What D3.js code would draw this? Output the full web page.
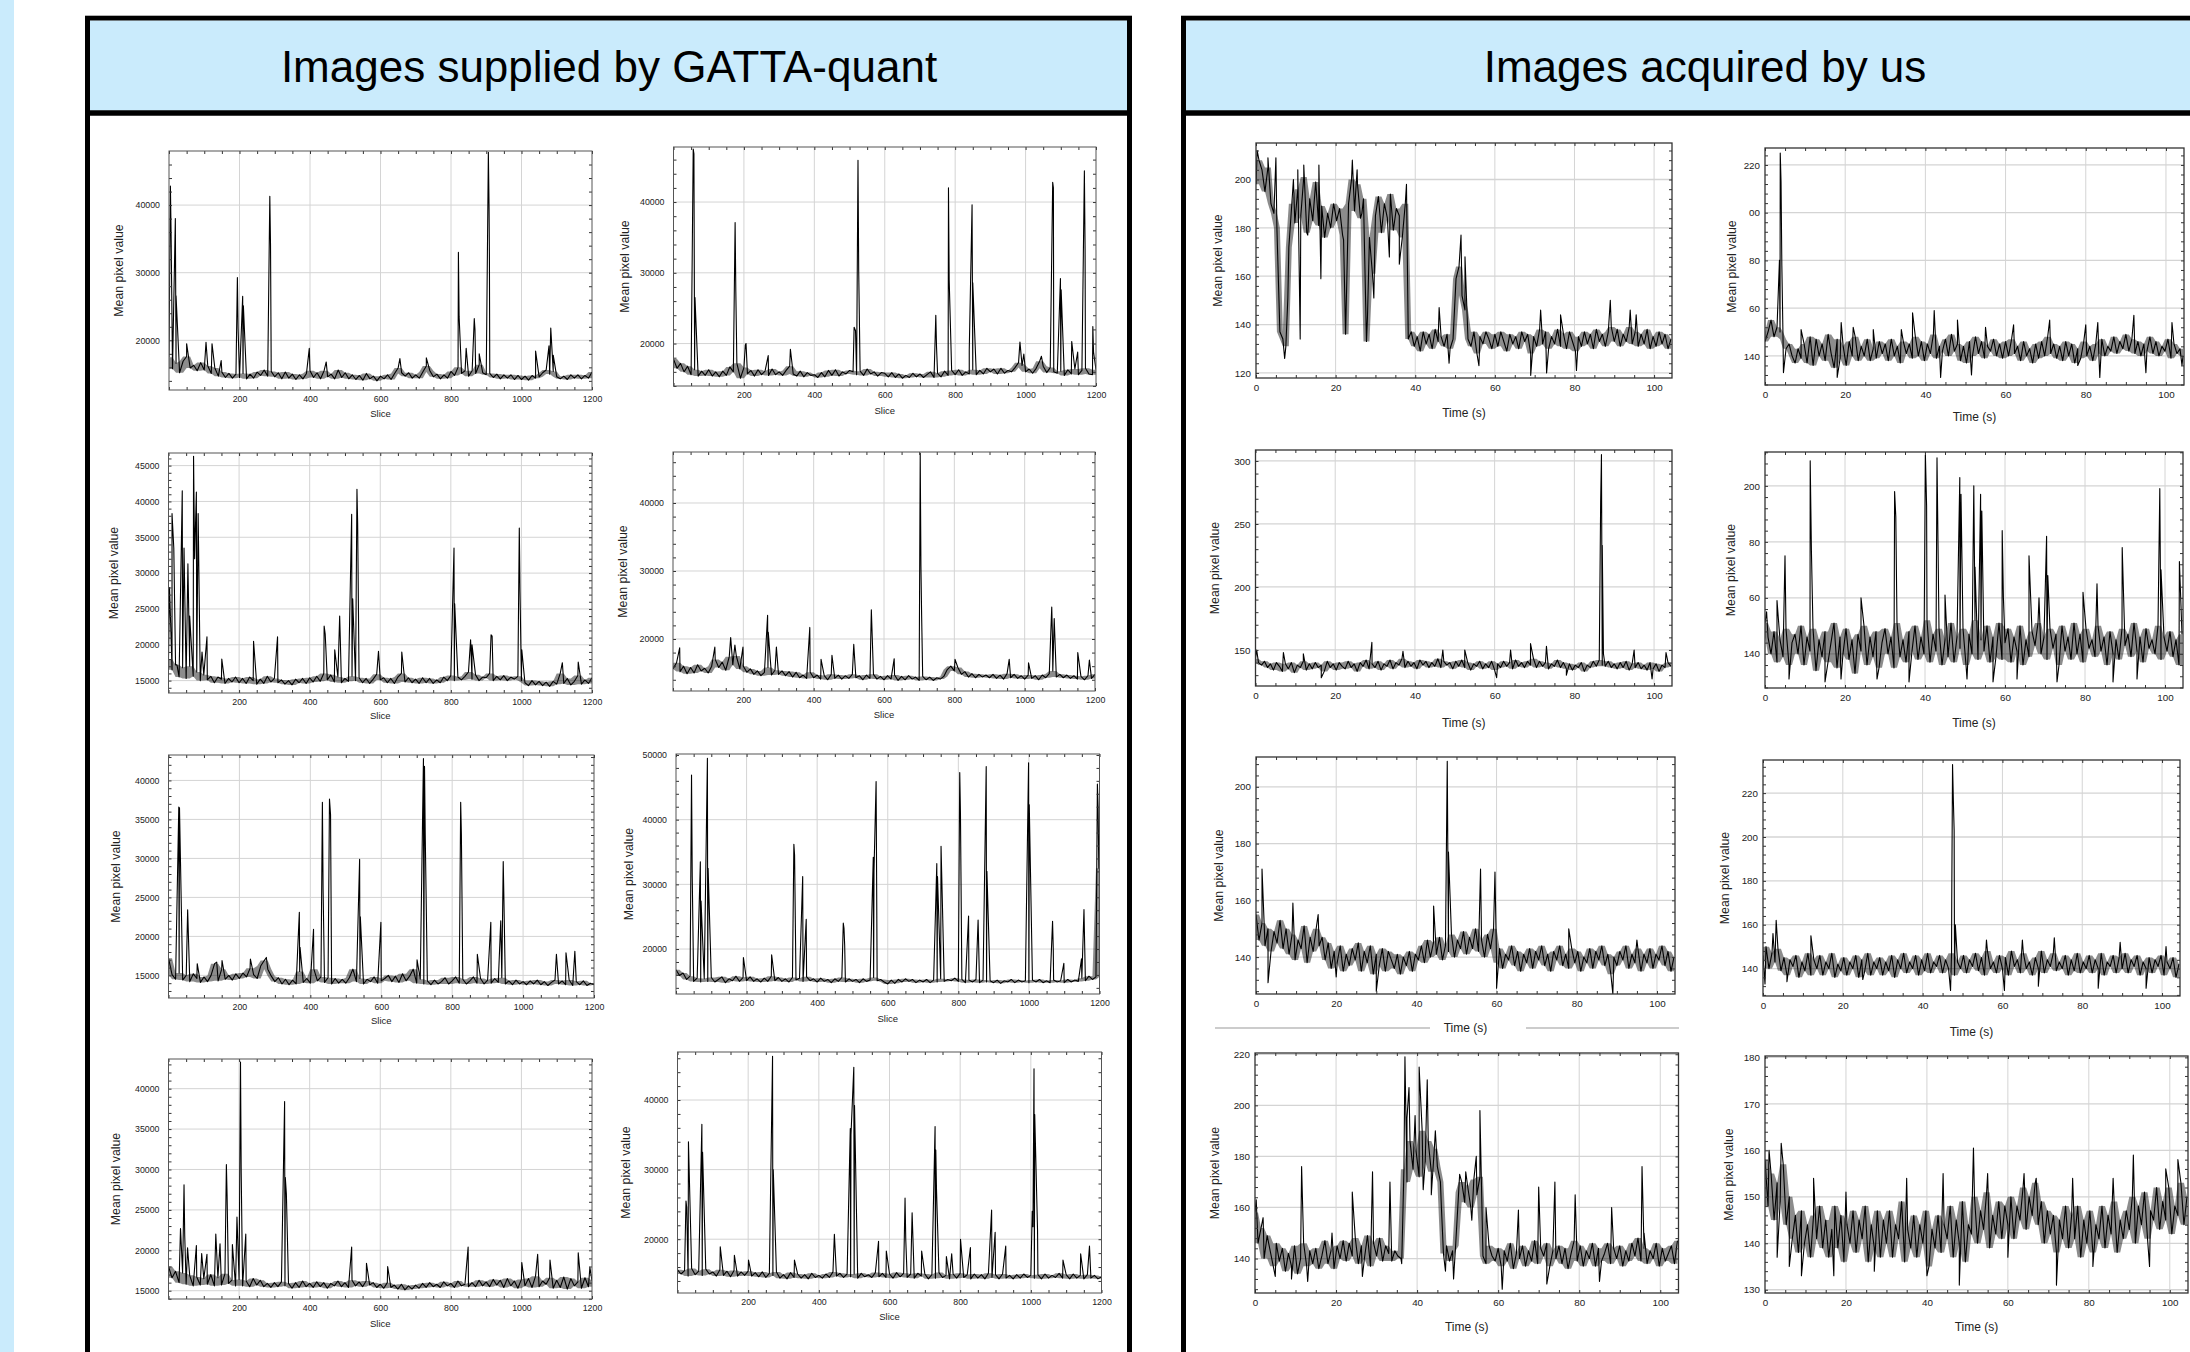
<!DOCTYPE html>
<html><head><meta charset="utf-8">
<script src="https://cdn.jsdelivr.net/npm/d3@7"></script>
<style>body{margin:0;background:#fff;}svg{display:block}</style>
</head><body>
<svg id="c" width="2190" height="1352"></svg>
<script>
// ---------------- DATA ----------------
const titles = ["Images supplied by GATTA-quant", "Images acquired by us"];
const sliceStep = 10;      // baseline samples every 10 slices (0..1200)
const timeStep = 0.75;     // baseline samples every 0.75 s (0..104.25)
const sliceTicks = [200, 400, 600, 800, 1000, 1200];
const timeTicks = [0, 20, 40, 60, 80, 100];

// GATTA-quant panels: baseline readings + spike readings [slice, value]
const L1_base = [
17500,15800,16600,15200,16900,17600,15900,16300,15500,16700,
15600,16200,15100,15900,14700,15300,14500,15100,14400,15000,
14500,15100,14300,15000,14400,15300,14800,15600,14700,15400,
14600,15200,14300,15300,14400,15000,14200,14900,14300,15100,
15500,14500,15200,14300,15500,14600,15000,14300,15600,14500,
15200,14300,14900,14200,14800,14100,15100,14300,14700,14000,
14700,14300,14900,14200,15100,15900,15200,14700,15200,14400,
14900,14400,15300,16200,15500,14600,15000,14300,14900,14400,
15400,14800,16000,15100,15500,14700,15500,15100,16400,15200,
14900,15100,14500,15000,14300,14900,14400,14900,14200,14800,
14200,14700,14100,14800,14400,14600,15200,15600,15000,15400,
14600,14300,14700,14200,14900,14400,14900,14300,14800,14400,
15300];
const L1_spikes = [[4,42800],[6,35500],[18,38000],[20,26600],[50,19500],[105,19700],[122,19500],[148,17000],[194,29300],[196,21800],[209,26500],[211,25100],[286,41300],[288,34100],[398,18800],[446,16800],[655,17300],[730,17400],[821,33000],[823,23500],[843,18800],[866,23200],[868,21600],[880,18000],[906,47800],[908,39500],[909,32000],[1040,18400],[1078,19200],[1083,21800],[1090,17800]];

const L2_base = [
17800,16500,17200,16000,16800,15600,16300,15400,16100,15500,
16300,15400,16000,15300,16100,15500,16700,16000,17200,15100,
16600,15700,16200,15400,16300,15600,16100,15500,16400,15600,
16000,15500,16200,16800,15700,15400,16100,15300,15900,15500,
15600,15200,15900,15300,16200,15500,16300,15400,16000,15700,
16200,16000,15600,16100,15500,16400,15700,16000,15400,15900,
15800,15300,15900,15200,15700,15100,15500,15200,15800,15300,
15700,15200,15600,16000,15200,15800,15300,16100,15500,16200,
15600,16300,15500,16000,15700,16300,15600,16200,15700,16500,
16000,16400,15700,16500,15800,16200,16000,16600,17300,16900,
16000,16400,15800,16500,17500,16800,15900,16600,16000,15800,
16100,15500,16300,15700,16400,15600,16200,16500,15700,15600,
16300];
const L2_spikes = [[56,47500],[58,46800],[61,26500],[175,37100],[177,27400],[204,19800],[206,20000],[269,18300],[332,19200],[513,22300],[517,21800],[524,45900],[526,30400],[745,24000],[747,19600],[781,42000],[783,29000],[840,19000],[848,39600],[850,28600],[984,20200],[995,18500],[1045,18200],[1077,42800],[1079,42000],[1099,29200],[1101,27600],[1131,20300],[1148,18800],[1167,44400],[1169,33200],[1191,22400],[1193,18800]];

const L3_base = [
18000,16500,17200,15500,16800,15300,17000,15600,16200,15000,
15800,15100,15600,14700,15500,15200,14600,15300,14800,15500,
14700,15300,14600,15500,15000,14500,15200,14600,15600,14800,
15300,14700,15100,14500,15000,14400,15200,14700,15300,14600,
15400,14800,15600,14900,16000,15100,15800,14800,15500,14700,
15300,14900,15600,15000,15400,14700,15300,14600,15200,15900,
15100,15400,14700,15300,14600,15500,16000,14800,15400,14700,
15200,14600,15400,14700,15300,14600,15100,14700,15500,15000,
15700,15000,15500,15100,15600,16200,15200,15800,15000,15500,
15400,16000,15000,15600,15100,15700,15000,15500,15200,15600,
15000,14700,14300,15000,14400,14900,14300,14800,14200,14900,
14500,16000,14600,15300,14400,14900,15700,14500,15100,14600,
15400];
const L3_spikes = [[3,28000],[10,38300],[15,33500],[24,17200],[39,41500],[44,33500],[55,31300],[60,24000],[71,46300],[74,32000],[79,41300],[84,38300],[95,19000],[109,21100],[151,18000],[241,20500],[309,21100],[441,22600],[444,21500],[471,19300],[485,24000],[487,20400],[519,38200],[522,26400],[534,41700],[536,36800],[595,19100],[661,19000],[809,33500],[811,25700],[856,20700],[860,20000],[914,21400],[917,21200],[994,36300],[996,27400],[1001,19300],[1116,17500],[1161,17600]];

const L4_base = [
15600,16500,15200,16000,14900,15800,15000,16200,15300,15700,
15000,16000,17000,15800,16600,15400,17400,16200,17500,15600,
16000,15100,15600,14800,15300,14600,15100,15800,14700,15400,
14800,15300,14600,15200,14400,15100,14300,14700,14200,15100,
14300,14700,14100,14600,14000,14800,14200,14700,14100,14600,
14200,14800,14300,14600,14000,14700,14200,14800,14100,14500,
14000,14600,14100,14700,13900,14500,14000,14600,14100,14400,
13900,14500,14000,14400,13900,14300,14100,14500,15500,16000,
15300,15800,14800,15200,14400,14900,14300,14800,14400,14700,
14300,14800,14200,14700,14100,14900,14300,14800,14200,14600,
14100,14700,14200,14600,14000,14700,14300,14900,15300,14400,
14800,14300,14700,14200,14600,14100,14500,14000,14600,14200,
14800];
const L4_spikes = [[19,18700],[119,18800],[164,20200],[176,19100],[199,18800],[269,23500],[271,21000],[294,18800],[389,21700],[421,17000],[452,17600],[514,19200],[564,24300],[629,17100],[703,47300],[705,30800],[707,23500],[802,17000],[956,17000],[1011,16500],[1077,24700],[1079,20200],[1084,23000],[1151,18000],[1184,16900]];

const L5_base = [
17200,15100,14500,15300,14400,15000,14200,15200,14600,14100,
14800,14200,15000,16500,14300,15800,14500,15000,14400,15200,
14600,15300,14800,15900,15100,14600,16200,16900,15800,14900,
14200,14700,13900,14500,13800,14400,13900,15500,14100,14600,
14000,15800,14300,14800,14100,14700,13900,14600,14000,14500,
14000,14700,15800,14200,14600,13900,14500,14200,14800,14000,
14300,14600,15000,14200,14900,14100,15200,14300,14900,15800,
14000,14500,13900,14300,13800,14400,13900,14200,14700,13900,
14300,14800,14000,14500,13900,14300,14800,14000,14600,13900,
14400,14000,14600,14100,14700,13900,14300,13800,14400,13900,
14200,13800,14300,13900,14400,13800,14200,13700,14100,14400,
13900,14300,13800,14400,13700,14200,13800,14300,13700,14000,
13800];
const L5_spikes = [[29,36600],[31,36500],[54,23400],[81,16500],[136,16700],[151,16900],[231,17100],[276,17300],[369,23100],[371,18600],[409,20900],[434,37200],[436,26000],[454,37600],[457,35600],[539,29900],[541,22500],[599,21800],[701,17000],[719,42800],[722,41800],[724,33200],[824,37200],[826,33100],[871,17700],[909,21800],[937,22000],[944,29600],[946,24600],[1094,17700],[1121,17900],[1146,18100]];

const L6_base = [
16800,15900,16300,15300,15800,15000,15500,14900,15400,15000,
15600,14900,15300,15700,14800,15400,15100,15800,15000,15600,
15100,15700,15000,15400,14900,15500,15000,15800,15100,15600,
15000,15400,14900,15600,15200,15500,15000,15700,15100,15400,
14900,15500,15000,15300,14800,15400,15000,15600,14900,15400,
15000,15300,14800,15400,15000,15200,15600,15100,15300,14900,
14600,15200,14700,15300,14900,15400,15000,15300,14800,15200,
14900,15300,14800,15200,14900,15400,15000,15300,15100,15500,
15000,15300,14800,15200,14900,15300,14800,15200,14900,15100,
14800,15200,14700,15100,14900,15300,14800,15200,14900,15100,
14800,15200,14900,15300,14800,15100,14800,15200,14900,15100,
14800,15300,14900,15200,15000,15500,15100,15800,15300,15700,
32500];
const L6_spikes = [[44,46900],[46,31200],[69,33500],[71,27400],[89,49500],[91,32500],[191,18700],[271,19100],[334,36200],[336,34500],[359,31200],[369,24600],[474,24000],[476,23200],[478,20500],[559,34200],[561,32000],[567,45900],[739,33200],[741,31200],[751,35900],[804,47300],[806,41000],[829,25100],[856,24500],[879,48200],[881,32000],[999,48800],[1001,42300],[1067,24300],[1069,20000],[1099,17800],[1149,18500],[1156,26100],[1194,45500],[1196,42000],[1198,32500]];

const L7_base = [
18000,16600,17400,16000,17200,15800,16900,15600,16700,15700,
16500,15800,17000,15600,16600,15700,17100,15900,16300,15600,
16400,15600,16200,15500,16500,15700,16300,15500,15900,15400,
16000,15500,16100,15600,15900,15300,16000,15400,16200,15500,
15900,15400,16100,15500,16000,15300,15900,15600,16200,15500,
16000,15400,16300,15600,16100,15500,16200,15700,16000,15400,
15800,15300,16000,15400,15700,15200,15800,15100,15600,15200,
15700,15300,15900,15400,16000,15500,15800,15400,16100,15600,
15900,15400,16200,15600,15800,15500,16000,15500,16300,15600,
16100,15500,16400,15700,16300,15400,16500,15600,16200,15300,
16400,15600,16500,15400,16800,15500,16200,15800,16600,15300,
16300,15400,16700,15200,16500,15600,16100,15300,16600,15500,
16200];
const L7_spikes = [[34,22700],[44,28100],[46,21800],[54,20300],[79,20600],[94,19600],[109,19500],[134,22000],[146,20800],[164,30600],[166,26800],[181,20700],[194,24100],[204,43300],[206,29600],[219,22000],[329,38400],[331,29000],[334,27000],[519,20400],[561,18400],[621,18000],[849,20400],[1001,18500],[1046,19500],[1081,18800],[1161,19700],[1194,17900]];

const L8_base = [
15600,15000,15500,14700,15800,14900,15400,14800,15700,15000,
15300,14700,15600,14800,15400,14600,15500,14700,15300,14800,
15400,14700,15200,14600,15300,14500,15100,14800,15300,14400,
14900,14300,15200,14500,15000,14400,14900,14300,15100,14500,
14800,14400,15000,14500,15300,14700,15100,14500,15000,14600,
15000,14400,15100,14600,14900,14500,15200,14600,15100,14500,
15000,14400,15200,14600,15100,14500,15000,14400,15100,14700,
15000,14300,14900,14400,15200,14500,14800,14300,15000,14400,
15100,14500,14900,14300,15000,14400,14900,14300,15100,14500,
14900,14300,15000,14400,14800,14300,14900,14400,15000,14500,
14800,14400,14900,14300,15000,14400,14800,14500,15100,14400,
14900,14300,15000,14400,14800,14300,14900,14400,14800,14300,
14600];
const L8_spikes = [[24,25500],[26,24600],[31,34000],[69,36500],[71,32500],[121,18900],[161,17700],[201,17000],[269,46300],[271,30000],[331,17000],[444,20700],[489,35900],[491,35000],[499,44700],[501,39200],[569,19700],[591,18300],[644,25900],[646,20000],[664,23800],[691,18300],[729,36200],[731,32800],[733,27200],[761,17500],[776,17900],[801,20000],[829,18800],[889,24200],[899,21000],[929,19000],[1004,24000],[1006,21800],[1009,44500],[1011,37900],[1019,21300],[1091,17000],[1141,17900],[1166,19000]];

// Our panels: baseline readings every 0.75 s + spike readings [time, value]
const R1_base = [
198,208,204,195,205,190,186,180,137,134,
131,172,190,182,196,185,201,178,192,183,
199,181,189,176,186,180,190,183,188,177,
136,190,200,187,198,184,192,133,176,161,
185,193,178,190,184,194,179,188,185,176,
190,134,137,131,135,129,137,132,136,130,
138,133,135,131,136,130,134,159,164,152,
146,134,131,137,128,135,132,137,134,130,
136,131,137,133,129,136,132,135,130,137,
133,136,128,135,131,138,132,137,130,135,
132,138,131,136,130,137,133,129,135,131,
137,132,136,130,138,133,136,131,137,139,
133,138,131,136,133,139,132,137,131,136,
132,138,130,135,131,137,132,136,130,134];
const R1_spikes = [[0.3,212],[3.0,209],[5.0,209],[7.2,126],[8.0,151],[9.4,200],[10.5,204],[11.1,134],[12.0,206],[13.0,177],[15.8,206],[16.3,159],[22.0,175],[24.2,208],[25.4,204],[26.6,186],[28.0,143],[29.6,151],[33.5,168],[36.0,165],[37.8,198],[46.0,147],[48.5,124],[51.5,177],[52.5,168],[56.0,123],[69.0,119],[71.5,146],[73.0,120],[76.5,144],[80.5,121],[89.0,150],[94.0,146],[95.5,144]];

const R2_base = [
146,150,155,148,152,150,147,143,145,140,
137,143,139,145,137,148,136,147,140,145,
138,149,141,135,147,139,144,136,146,140,
148,138,144,140,147,138,143,139,146,141,
145,138,147,140,144,137,146,141,145,139,
148,140,146,138,145,141,149,139,144,142,
147,140,149,142,145,138,144,137,146,140,
148,141,146,139,144,142,147,140,145,139,
146,140,147,141,144,138,146,140,143,137,
145,139,146,140,148,141,145,139,144,138,
146,140,145,137,143,139,146,140,144,138,
145,141,147,140,144,142,148,141,146,143,
149,142,147,141,146,140,145,142,148,141,
146,140,144,142,147,139,145,141,143,140];
const R2_spikes = [[3.6,180],[3.8,225],[4.0,213],[4.2,178],[4.6,133],[9.0,151],[18.0,131],[19.0,154],[22.0,152],[27.0,151],[34.0,151],[36.8,158],[42.2,159],[43.8,131],[48.0,155],[51.5,132],[55.0,152],[62.0,153],[71.0,155],[78.0,136],[80.0,153],[83.0,154],[83.5,131],[92.0,157],[95.0,133],[101.5,154],[104.0,136]];

const R3_base = [
143,140,138,141,136,139,134,140,137,133,
139,135,140,132,138,136,141,134,139,135,
140,136,138,133,141,136,139,134,140,137,
135,141,136,139,133,140,137,142,135,139,
136,141,134,139,137,142,135,140,138,143,
136,141,137,140,135,142,138,141,136,140,
137,143,136,141,138,140,135,141,137,142,
136,140,134,139,137,141,135,139,136,141,
134,139,136,141,137,140,135,142,137,140,
136,141,138,143,136,141,137,140,135,139,
137,142,136,140,135,139,134,138,136,140,
133,138,136,141,137,142,138,137,141,136,
139,135,140,136,141,134,139,136,140,135,
138,134,140,135,139,133,138,136,140,137];
const R3_spikes = [[0.3,150],[7,148],[12,147],[16.5,128],[29.2,156],[37,149],[47,150],[52.5,150],[60.5,128],[64,150],[69,155],[73,153],[78,130],[86.6,268],[86.8,305],[87.0,233],[87.3,147],[95,150],[99.5,127],[103,148]];

const R4_base = [
151,146,140,148,137,145,139,149,136,144,
147,140,150,136,146,141,149,134,145,139,
148,137,144,151,135,146,140,149,138,145,
133,147,141,150,136,146,139,148,135,144,
149,140,146,135,151,139,145,137,148,141,
150,138,146,140,152,137,147,141,149,136,
145,139,151,137,146,142,149,136,147,140,
152,138,145,141,150,137,146,139,151,138,
144,149,137,146,141,150,136,145,139,148,
143,151,140,146,138,149,142,147,136,150,
141,146,138,151,140,147,137,149,142,145,
139,150,141,146,136,148,140,145,138,149,
143,147,139,151,141,146,137,149,142,145,
140,150,138,146,141,148,139,145,136,147];
const R4_spikes = [[0.4,155],[3.0,159],[5.0,175],[6.0,131],[11.3,209],[11.6,177],[15,130],[19,131],[24,160],[28,131],[32.4,198],[32.7,189],[36,130],[40.1,211],[40.4,193],[43.0,210],[45,161],[48.7,203],[49.0,197],[50.5,131],[52.2,200],[52.5,171],[53.9,197],[54.2,191],[57,130],[59.3,184],[59.6,160],[63,131],[66.0,175],[68.5,160],[70.4,182],[70.7,168],[73,130],[79.5,162],[83.0,165],[87,130],[89.3,178],[93,131],[98.7,199],[99.0,170],[103.6,173]];

const R5_base = [
155,146,152,144,150,142,149,145,153,143,
150,141,148,139,146,143,151,138,147,142,
150,144,147,139,145,136,142,138,144,135,
141,137,143,139,145,135,142,138,144,134,
141,137,143,135,142,139,136,141,134,140,
137,142,135,141,139,144,138,146,140,145,
141,147,139,144,142,148,140,146,143,149,
141,147,143,150,142,146,140,148,143,150,
138,143,136,141,139,144,137,142,135,141,
138,143,136,142,139,144,137,141,135,142,
139,144,137,141,136,143,138,142,135,140,
138,143,136,142,139,144,137,141,134,140,
137,142,139,144,136,141,138,143,135,141,
138,143,136,141,139,144,137,142,135,140];
const R5_spikes = [[1.5,171],[3,131],[9.2,159],[15.5,155],[20,133],[30,128],[44.3,158],[47.7,209],[48.0,177],[56.0,171],[59.6,170],[60.0,129],[78,150],[89,127],[95,146]];

const R6_base = [
146,150,140,147,143,149,139,145,137,144,
141,146,136,143,139,147,137,144,140,146,
137,143,140,147,136,142,139,145,137,143,
140,146,136,144,139,147,137,143,140,145,
137,143,139,146,136,144,140,147,138,143,
140,146,137,144,139,147,138,143,141,146,
138,144,140,147,137,143,140,146,138,144,
141,147,139,145,137,148,140,143,138,146,
140,145,137,148,141,144,138,147,140,143,
137,145,140,148,138,144,141,147,139,143,
140,146,137,144,139,147,138,143,140,146,
138,144,140,147,137,143,141,146,138,145,
140,147,138,144,141,146,137,143,140,145,
138,144,141,146,137,143,140,145,136,142];
const R6_spikes = [[0.5,133],[2.5,156],[3.3,162],[6,134],[12,155],[25,135],[47.0,130],[47.3,172],[47.5,233],[47.7,217],[47.9,203],[48.2,160],[56,153],[60.5,130],[65,153],[69,132],[73,154],[84,131],[89.5,152],[96,131],[101,150]];

const R7_base = [
158,146,152,140,149,143,137,146,139,144,
135,142,137,145,134,140,146,137,143,138,
144,136,141,147,138,143,136,145,140,147,
139,146,141,148,138,145,140,149,137,146,
141,148,139,145,142,139,143,141,140,175,
170,186,175,182,172,190,178,186,174,183,
176,170,142,145,139,143,145,166,170,162,
168,160,171,165,172,141,138,145,141,139,
144,137,143,139,146,136,142,140,145,137,
143,139,147,138,144,141,146,137,143,140,
145,138,144,136,142,147,139,145,137,143,
140,146,137,144,139,142,146,138,144,140,
145,137,143,139,146,141,148,139,144,138,
143,140,146,137,144,139,142,145,138,147];
const R7_spikes = [[0.3,163],[2,156],[5,133],[9,132],[11.5,176],[13,131],[19,150],[24,166],[26.5,133],[29,174],[33.3,170],[36.2,138],[37.0,219],[37.5,195],[38.0,207],[39.5,196],[40.5,215],[41.5,167],[42.5,210],[43.5,165],[44.5,190],[46,160],[47,135],[49,132],[50.5,173],[52,174],[53.5,155],[54.6,180],[55.5,198],[57,160],[61,128],[65,159],[70,168],[72,130],[74,170],[79,165],[85,131],[88,160],[95.5,176],[96,150]];

const R8_base = [
158,148,155,145,153,149,157,144,150,141,
146,138,147,140,144,137,146,141,148,139,
145,137,143,148,139,146,136,144,140,147,
138,145,141,148,136,144,139,147,137,145,
140,147,137,144,141,149,136,143,139,146,
137,144,140,147,135,143,139,146,138,144,
141,148,137,145,140,149,136,144,142,150,
140,147,143,151,139,146,142,149,141,148,
144,150,141,148,145,152,143,150,146,153,
144,149,140,147,142,146,138,145,141,148,
139,146,141,148,137,145,140,147,138,144,
141,148,139,146,142,149,138,145,141,147,
143,150,140,148,144,151,141,147,145,152,
143,149,145,152,142,148,146,153,144,150];
const R8_spikes = [[1,160],[3,137],[4,161.5],[6,135],[9,133],[12,154],[17,133],[20,151],[27,134],[35,154],[40,133],[44,155],[48,131],[51.5,160.5],[55,155],[60,137],[64,155],[67,154],[72,131],[76,154],[81,135],[86,154],[91,159],[95,135],[99,156],[102,158]];

// y-axis readings per panel (domain, tick values, tick labels as printed)
const panelsData = [
 {id:"L1", kind:"slice", base:L1_base, spikes:L1_spikes, yDomain:[12650,48000], yTicks:[20000,30000,40000]},
 {id:"L2", kind:"slice", base:L2_base, spikes:L2_spikes, yDomain:[14000,47780], yTicks:[20000,30000,40000]},
 {id:"L3", kind:"slice", base:L3_base, spikes:L3_spikes, yDomain:[13270,46760], yTicks:[15000,20000,25000,30000,35000,40000,45000]},
 {id:"L4", kind:"slice", base:L4_base, spikes:L4_spikes, yDomain:[12350,47500], yTicks:[20000,30000,40000]},
 {id:"L5", kind:"slice", base:L5_base, spikes:L5_spikes, yDomain:[12100,43260], yTicks:[15000,20000,25000,30000,35000,40000]},
 {id:"L6", kind:"slice", base:L6_base, spikes:L6_spikes, yDomain:[13050,50150], yTicks:[20000,30000,40000,50000]},
 {id:"L7", kind:"slice", base:L7_base, spikes:L7_spikes, yDomain:[13975,43670], yTicks:[15000,20000,25000,30000,35000,40000]},
 {id:"L8", kind:"slice", base:L8_base, spikes:L8_spikes, yDomain:[12270,46900], yTicks:[20000,30000,40000]},
 {id:"R1", kind:"time", base:R1_base, spikes:R1_spikes, yDomain:[117.9,215.1], yTicks:[120,140,160,180,200]},
 {id:"R2", kind:"time", base:R2_base, spikes:R2_spikes, yDomain:[127.8,227.1], yTicks:[140,160,180,200,220], yLabels:["140","60","80","00","220"]},
 {id:"R3", kind:"time", base:R3_base, spikes:R3_spikes, yDomain:[121.4,308.7], yTicks:[150,200,250,300]},
 {id:"R4", kind:"time", base:R4_base, spikes:R4_spikes, yDomain:[127.8,212.1], yTicks:[140,160,180,200], yLabels:["140","60","80","200"]},
 {id:"R5", kind:"time", base:R5_base, spikes:R5_spikes, yDomain:[127,210.5], yTicks:[140,160,180,200]},
 {id:"R6", kind:"time", base:R6_base, spikes:R6_spikes, yDomain:[127.5,235.1], yTicks:[140,160,180,200,220]},
 {id:"R7", kind:"time", base:R7_base, spikes:R7_spikes, yDomain:[126.5,220.5], yTicks:[140,160,180,200,220]},
 {id:"R8", kind:"time", base:R8_base, spikes:R8_spikes, yDomain:[129.3,180.3], yTicks:[130,140,150,160,170,180]}
];

// ---------------- LAYOUT ----------------
const layout = {
 L1:{x0:169,x1:592,y0:151,y1:390,xl:414,yl:119},
 L2:{x0:673.5,x1:1096,y0:147,y1:386,xl:411,yl:625},
 L3:{x0:168.5,x1:592,y0:453,y1:693,xl:716,yl:114},
 L4:{x0:673,x1:1095,y0:452,y1:691,xl:715,yl:623},
 L5:{x0:168.5,x1:594,y0:755,y1:998,xl:1021,yl:116},
 L6:{x0:676,x1:1099.5,y0:754,y1:994,xl:1019,yl:629},
 L7:{x0:168.5,x1:592,y0:1059,y1:1299,xl:1324,yl:116},
 L8:{x0:677.5,x1:1101.5,y0:1052,y1:1293,xl:1317,yl:626},
 R1:{x0:1256,x1:1672,y0:143,y1:378,xl:413,yl:1218},
 R2:{x0:1765,x1:2184,y0:148,y1:385,xl:417,yl:1732},
 R3:{x0:1255.5,x1:1672,y0:450,y1:686,xl:723,yl:1215},
 R4:{x0:1765,x1:2183,y0:452,y1:688,xl:723,yl:1731},
 R5:{x0:1256,x1:1675,y0:757,y1:994,xl:1028,yl:1219},
 R6:{x0:1763,x1:2180,y0:760,y1:996,xl:1032,yl:1725},
 R7:{x0:1255,x1:1678.5,y0:1053,y1:1293,xl:1327,yl:1215},
 R8:{x0:1765,x1:2188,y0:1056,y1:1293,xl:1327,yl:1729}
};
const headerFill = "#caebfc";
const font = "'Liberation Sans', Arial, Helvetica, sans-serif";

// ---------------- DRAW ----------------
const svg = d3.select("#c");
svg.append("rect").attr("x",0).attr("y",0).attr("width",2190).attr("height",1352).attr("fill","#fff");
svg.append("rect").attr("x",0).attr("y",0).attr("width",14).attr("height",1352).attr("fill",headerFill);

const boxes = [{x:85, w:1047, cx:609, t:titles[0]}, {x:1181, w:1047, cx:1705, t:titles[1]}];
boxes.forEach(b=>{
  svg.append("rect").attr("x",b.x+2.5).attr("y",18.2).attr("width",b.w-5).attr("height",1400)
     .attr("fill","#fff").attr("stroke","#000").attr("stroke-width",5);
  svg.append("rect").attr("x",b.x+5).attr("y",20.7).attr("width",b.w-10).attr("height",90)
     .attr("fill",headerFill);
  svg.append("line").attr("x1",b.x).attr("x2",b.x+b.w).attr("y1",113).attr("y2",113)
     .attr("stroke","#000").attr("stroke-width",5.5);
  svg.append("text").attr("x",b.cx).attr("y",82).attr("text-anchor","middle")
     .attr("font-family",font).attr("font-size",44).attr("fill","#000").text(b.t);
});

function buildSeries(p){
  const step = p.kind==="slice" ? sliceStep : timeStep;
  const pts = p.base.map((v,i)=>({x:i*step, y:v}));
  p.spikes.forEach(([x,y])=>pts.push({x, y}));
  pts.sort((a,b)=>a.x-b.x);
  return pts;
}
// noise envelope of the baseline readings (min/max of neighbouring readings)
function buildBand(p){
  const step = p.kind==="slice" ? sliceStep : timeStep;
  const b = p.base;
  return b.map((v,i)=>{
    const nb = b.slice(Math.max(0,i-1), i+2);
    return {x:i*step, lo:d3.min(nb), hi:d3.max(nb)};
  });
}

panelsData.forEach(p=>{
  const L = layout[p.id];
  const isS = p.kind==="slice";
  const x = d3.scaleLinear().domain(isS?[0,1200]:[0,104.5]).range([L.x0,L.x1]);
  const y = d3.scaleLinear().domain(p.yDomain).range([L.y1,L.y0]);
  const g = svg.append("g");
  const gridX = isS ? sliceTicks.filter(d=>d<1200) : timeTicks.filter(d=>d>0);
  g.selectAll(null).data(gridX).join("line")
    .attr("x1",d=>x(d)).attr("x2",d=>x(d)).attr("y1",L.y0).attr("y2",L.y1)
    .attr("stroke","#d4d4d4").attr("stroke-width",1);
  g.selectAll(null).data(p.yTicks.filter(d=>y(d)>L.y0+1 && y(d)<L.y1-1)).join("line")
    .attr("x1",L.x0).attr("x2",L.x1).attr("y1",d=>y(d)).attr("y2",d=>y(d))
    .attr("stroke","#d4d4d4").attr("stroke-width",isS?1:1.3);

  const cid = "clip"+p.id;
  svg.append("clipPath").attr("id",cid).append("rect")
    .attr("x",L.x0).attr("y",L.y0).attr("width",L.x1-L.x0).attr("height",L.y1-L.y0);
  const plot = g.append("g").attr("clip-path",`url(#${cid})`);
  plot.append("path").datum(buildBand(p))
    .attr("d", d3.area().x(d=>x(d.x)).y0(d=>y(d.lo)).y1(d=>y(d.hi)))
    .attr("fill","#000").attr("fill-opacity",0.45);
  plot.append("path").datum(buildSeries(p))
    .attr("d", d3.line().x(d=>x(d.x)).y(d=>y(d.y)))
    .attr("fill","none").attr("stroke","#000").attr("stroke-width",1.1)
    .attr("stroke-linejoin","round");

  // minor inward ticks on all sides
  const xMinor = isS ? d3.range(0,1201,50) : d3.range(0,104.6,5);
  const yStep = p.yTicks[1]-p.yTicks[0];
  const ym = yStep/5;
  const yMinor = d3.range(Math.ceil(p.yDomain[0]/ym)*ym, p.yDomain[1], ym);
  const tickCol = "#333";
  const strip = s=>{ s.select(".domain").remove(); s.selectAll("line").attr("stroke",tickCol); };
  g.append("g").attr("transform",`translate(0,${L.y1})`).call(d3.axisBottom(x).tickValues(xMinor).tickSize(-3).tickFormat("")).call(strip);
  g.append("g").attr("transform",`translate(0,${L.y0})`).call(d3.axisTop(x).tickValues(xMinor).tickSize(-3).tickFormat("")).call(strip);
  g.append("g").attr("transform",`translate(${L.x0},0)`).call(d3.axisLeft(y).tickValues(yMinor).tickSize(-3).tickFormat("")).call(strip);
  g.append("g").attr("transform",`translate(${L.x1},0)`).call(d3.axisRight(y).tickValues(yMinor).tickSize(-3).tickFormat("")).call(strip);

  // frame
  g.append("rect").attr("x",L.x0).attr("y",L.y0).attr("width",L.x1-L.x0).attr("height",L.y1-L.y0)
    .attr("fill","none").attr("stroke",isS?"#555":"#333").attr("stroke-width",isS?1:1.3);

  // labelled axes
  const fs = isS ? 8.8 : 9.8;
  const xa = g.append("g").attr("transform",`translate(0,${L.y1})`)
    .call(d3.axisBottom(x).tickValues(isS?sliceTicks:timeTicks).tickSize(0).tickPadding(6).tickFormat(d3.format("d")));
  xa.select(".domain").remove();
  xa.selectAll("text").attr("font-family",font).attr("font-size",fs).attr("fill","#222");
  const labels = p.yLabels;
  const ya = g.append("g").attr("transform",`translate(${L.x0},0)`)
    .call(d3.axisLeft(y).tickValues(p.yTicks).tickSize(0).tickPadding(isS?9:5)
      .tickFormat((d,i)=>labels?labels[i]:d3.format("d")(d)));
  ya.select(".domain").remove();
  ya.selectAll("text").attr("font-family",font).attr("font-size",fs).attr("fill","#222");

  g.append("text").attr("x",(L.x0+L.x1)/2).attr("y",L.xl).attr("dy","0.35em")
    .attr("text-anchor","middle").attr("font-family",font).attr("font-size",isS?9.5:12)
    .attr("fill","#222").text(isS?"Slice":"Time (s)");
  g.append("text").attr("transform",`translate(${L.yl},${(L.y0+L.y1)/2}) rotate(-90)`)
    .attr("dy","0.35em").attr("text-anchor","middle").attr("font-family",font)
    .attr("font-size",12.3).attr("fill","#222").text("Mean pixel value");
});

// stray rule lines beside the R5 axis title
[[1215,1430],[1526,1679]].forEach(([a,b])=>{
  svg.append("line").attr("x1",a).attr("x2",b).attr("y1",1028).attr("y2",1028)
    .attr("stroke","#999").attr("stroke-width",1);
});
</script>
</body></html>
